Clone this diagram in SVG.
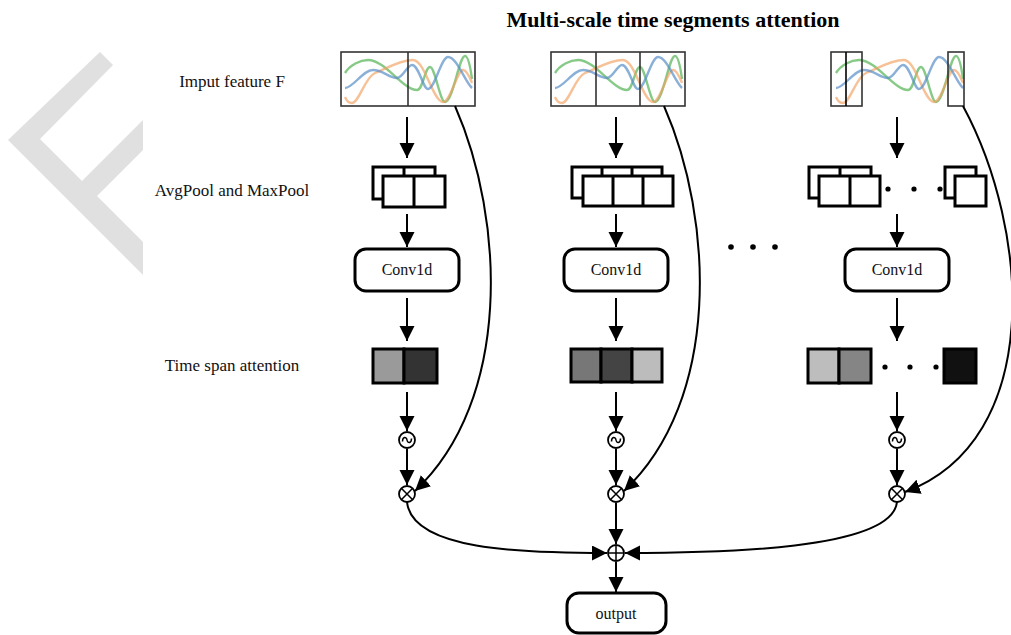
<svg xmlns="http://www.w3.org/2000/svg" width="1011" height="635" viewBox="0 0 1011 635">
<style>
.lbl{font-family:"Liberation Serif","Times New Roman",serif;font-size:17px;fill:#111;text-anchor:middle}
.title{font-family:"Liberation Serif","Times New Roman",serif;font-size:22px;font-weight:bold;fill:#000;text-anchor:middle}
.ntxt{font-family:"Liberation Serif","Times New Roman",serif;font-size:16px;fill:#111;text-anchor:middle}
.frame{fill:none;stroke:#333;stroke-width:1.6}
.blk{fill:#fff;stroke:#000;stroke-width:3}
.cell{stroke:#000;stroke-width:3}
.rbox{fill:#fff;stroke:#000;stroke-width:3}
.op{fill:#fff;stroke:#000;stroke-width:1.8}
.opl{fill:none;stroke:#000;stroke-width:1.5}
.conn{fill:none;stroke:#000;stroke-width:2;marker-end:url(#ah)}
.g{fill:none;stroke:#5fb85f;stroke-width:2.4;opacity:.75}
.o{fill:none;stroke:#f3a060;stroke-width:2.4;opacity:.65}
.b{fill:none;stroke:#5a8fc8;stroke-width:2.4;opacity:.7}
</style>
<defs>
<marker id="ah" markerUnits="userSpaceOnUse" markerWidth="16" markerHeight="16" refX="15" refY="7.5" orient="auto">
<path d="M0,0 L15,7.5 L0,15 z" fill="#000"/>
</marker>
<g id="waves">
<path class="g" d="M0,21 C5,13 15,8 23,8 C40,8 58,38 72,38 C78,38 80,15 85,15 C90,15 95,50 100,50 C108,50 114,4 120,4 C124,4 126,20 127,27"/>
<path class="o" d="M0,45 C2,50 4,51 7,51 C14,51 20,25 30,21 C40,17 55,8 68,8 C80,8 88,50 98,50 C106,50 112,18 118,18 C122,18 125,26 127,31"/>
<path class="b" d="M0,36 C8,36 18,18 28,18 C38,18 44,26 52,26 C58,26 62,13 67,13 C74,13 78,37 83,37 C90,37 96,5 103,5 C112,5 120,30 127,36"/>
</g>
</defs>
<rect width="1011" height="635" fill="#fff"/>
<polygon id="watermark" points="100,52 113,65 40,139 82,181 143,120 143,150 97,196 143,242 143,275 8,140" fill="#e0e0e0"/>
<text class="title" x="673" y="27">Multi-scale time segments attention</text>
<g id="labels">
<text class="lbl" x="232" y="87">Imput feature F</text>
<text class="lbl" x="232" y="196">AvgPool and MaxPool</text>
<text class="lbl" x="232" y="371">Time span attention</text>
</g>
<g id="input1">
<use href="#waves" transform="translate(345,52)"/>
<rect class="frame" x="341" y="52" width="134" height="54"/>
<line class="frame" x1="408" y1="52" x2="408" y2="106"/>
</g>
<g id="input2">
<use href="#waves" transform="translate(555,52)"/>
<rect class="frame" x="551" y="52" width="134" height="54"/>
<line class="frame" x1="596" y1="52" x2="596" y2="106"/>
<line class="frame" x1="640" y1="52" x2="640" y2="106"/>
</g>
<g id="input3">
<use href="#waves" transform="translate(836,52)"/>
<rect class="frame" x="831" y="52" width="31" height="54"/>
<line x1="846" y1="52" x2="846" y2="106" stroke="#000" stroke-width="1.6"/>
<rect class="frame" x="948" y="52" width="16" height="54"/>
</g>
<g id="pool1">
<rect class="blk" x="373" y="167" width="62" height="32"/>
<line class="cell" x1="404" y1="167" x2="404" y2="180"/>
<rect class="blk" x="383" y="176" width="62" height="31"/>
<line class="cell" x1="414" y1="176" x2="414" y2="207"/>
</g>
<g id="pool2">
<rect class="blk" x="572" y="167" width="90" height="31"/>
<line class="cell" x1="602" y1="167" x2="602" y2="180"/>
<line class="cell" x1="632" y1="167" x2="632" y2="180"/>
<rect class="blk" x="583" y="176" width="90" height="30"/>
<line class="cell" x1="613" y1="176" x2="613" y2="206"/>
<line class="cell" x1="643" y1="176" x2="643" y2="206"/>
</g>
<g id="pool3">
<rect class="blk" x="809" y="167" width="62" height="31"/>
<line class="cell" x1="840" y1="167" x2="840" y2="180"/>
<rect class="blk" x="819" y="176" width="61" height="30"/>
<line class="cell" x1="850" y1="176" x2="850" y2="206"/>
<circle cx="888" cy="189" r="2.6"/>
<circle cx="914" cy="189" r="2.6"/>
<circle cx="940" cy="189" r="2.6"/>
<rect class="blk" x="945" y="167" width="31" height="31"/>
<rect class="blk" x="955" y="176" width="31" height="30"/>
</g>
<g id="conv1">
<rect class="rbox" x="355" y="249" width="104" height="42" rx="11"/>
<text class="ntxt" x="407" y="275">Conv1d</text>
</g>
<g id="conv2">
<rect class="rbox" x="564" y="249" width="104" height="42" rx="11"/>
<text class="ntxt" x="616" y="275">Conv1d</text>
</g>
<g id="conv3">
<rect class="rbox" x="845" y="249" width="104" height="42" rx="11"/>
<text class="ntxt" x="897" y="275">Conv1d</text>
</g>
<g id="dots-mid">
<circle cx="731" cy="247" r="2.8"/>
<circle cx="753" cy="247" r="2.8"/>
<circle cx="775" cy="247" r="2.8"/>
</g>
<g id="att1">
<rect class="cell" x="373" y="349" width="31" height="34" fill="#9a9a9a"/>
<rect class="cell" x="404" y="349" width="33" height="34" fill="#333"/>
</g>
<g id="att2">
<rect class="cell" x="571" y="349" width="30" height="33" fill="#777"/>
<rect class="cell" x="601" y="349" width="31" height="33" fill="#444"/>
<rect class="cell" x="632" y="349" width="30" height="33" fill="#bcbcbc"/>
</g>
<g id="att3">
<rect class="cell" x="808" y="349" width="31" height="34" fill="#bdbdbd"/>
<rect class="cell" x="839" y="349" width="32" height="34" fill="#858585"/>
<circle cx="885" cy="367" r="2.6"/>
<circle cx="910" cy="367" r="2.6"/>
<circle cx="936" cy="367" r="2.6"/>
<rect class="cell" x="944" y="349" width="32" height="34" fill="#111"/>
</g>
<g id="sig1"><circle class="op" cx="407" cy="440" r="8"/><path class="opl" d="M402.5,441.5 C402.5,436.5 406.5,436.5 407,440 C407.5,443.5 411.5,443.5 411.5,438.5"/></g>
<g id="sig2"><circle class="op" cx="616" cy="440" r="8"/><path class="opl" d="M611.5,441.5 C611.5,436.5 615.5,436.5 616,440 C616.5,443.5 620.5,443.5 620.5,438.5"/></g>
<g id="sig3"><circle class="op" cx="897" cy="440" r="8"/><path class="opl" d="M892.5,441.5 C892.5,436.5 896.5,436.5 897,440 C897.5,443.5 901.5,443.5 901.5,438.5"/></g>
<g id="mul1"><circle class="op" cx="407" cy="494" r="8"/><path class="opl" d="M401.3,488.3 L412.7,499.7 M412.7,488.3 L401.3,499.7"/></g>
<g id="mul2"><circle class="op" cx="616" cy="494" r="8"/><path class="opl" d="M610.3,488.3 L621.7,499.7 M621.7,488.3 L610.3,499.7"/></g>
<g id="mul3"><circle class="op" cx="897" cy="494" r="8"/><path class="opl" d="M891.3,488.3 L902.7,499.7 M902.7,488.3 L891.3,499.7"/></g>
<g id="plus"><circle class="op" cx="616" cy="553" r="8"/><path class="opl" d="M608,553 L624,553 M616,545 L616,561"/></g>
<g id="output">
<rect class="rbox" x="567" y="593" width="99" height="40" rx="12"/>
<text class="ntxt" x="616" y="619">output</text>
</g>
<g id="connectors">
<line class="conn" x1="407" y1="117" x2="407" y2="158"/>
<line class="conn" x1="616" y1="117" x2="616" y2="158"/>
<line class="conn" x1="897" y1="117" x2="897" y2="158"/>
<line class="conn" x1="407" y1="214" x2="407" y2="247"/>
<line class="conn" x1="616" y1="214" x2="616" y2="247"/>
<line class="conn" x1="897" y1="214" x2="897" y2="247"/>
<line class="conn" x1="407" y1="298" x2="407" y2="341"/>
<line class="conn" x1="616" y1="298" x2="616" y2="341"/>
<line class="conn" x1="897" y1="298" x2="897" y2="341"/>
<line class="conn" x1="407" y1="392" x2="407" y2="431"/>
<line class="conn" x1="616" y1="392" x2="616" y2="431"/>
<line class="conn" x1="897" y1="392" x2="897" y2="431"/>
<line class="conn" x1="407" y1="449" x2="407" y2="485"/>
<line class="conn" x1="616" y1="449" x2="616" y2="485"/>
<line class="conn" x1="897" y1="449" x2="897" y2="485"/>
<path class="conn" d="M455,106 C505,220 512,400 415,491"/>
<path class="conn" d="M664,106 C714,220 721,400 624,491"/>
<path class="conn" d="M963,106 C1030,230 1045,440 905,492"/>
<line class="conn" x1="616" y1="503" x2="616" y2="544"/>
<path class="conn" d="M407,502 C412,550 520,553 607,553"/>
<path class="conn" d="M897,502 C892,550 720,553 625,553"/>
<line class="conn" x1="616" y1="562" x2="616" y2="592"/>
</g>
</svg>
